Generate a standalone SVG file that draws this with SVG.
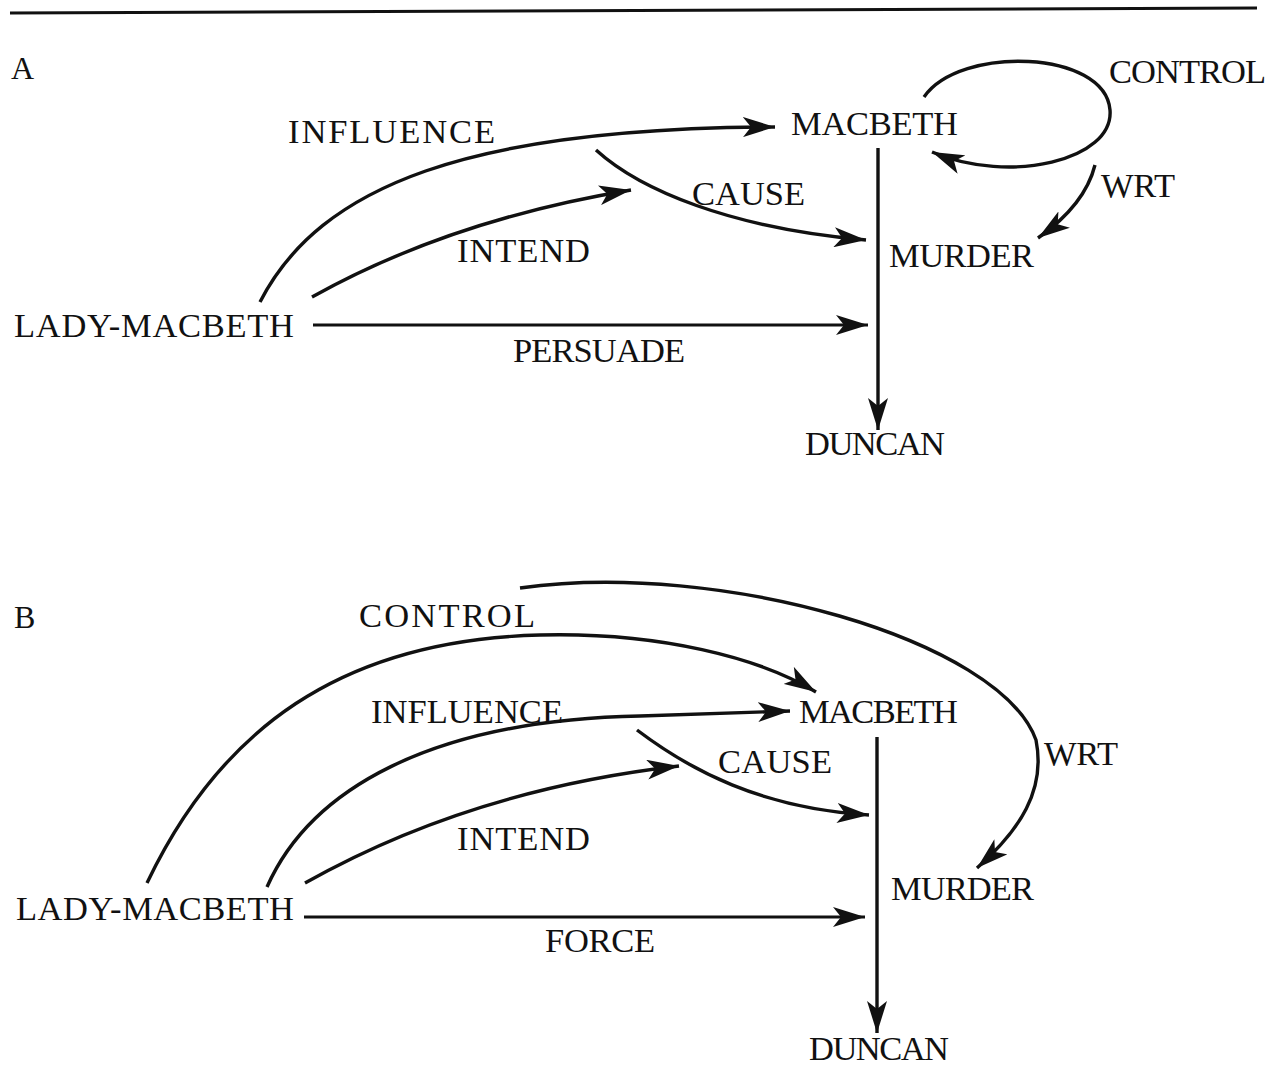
<svg xmlns="http://www.w3.org/2000/svg" width="1282" height="1065" viewBox="0 0 1282 1065">
<style>
text{font-family:"Liberation Serif","Times New Roman",serif;font-size:34.5px;fill:#111}
.pl{font-size:32px}
.c{fill:none;stroke:#111;stroke-width:3.4}
.h{stroke-width:2.8}
</style>
<defs>
<marker id="ah" markerUnits="userSpaceOnUse" viewBox="0 0 32 20" markerWidth="32" markerHeight="20" refX="32" refY="10" orient="auto">
<path d="M0,0 L32,10 L0,20 L8,10 z" fill="#111"/>
</marker>
</defs>
<rect width="1282" height="1065" fill="#fff"/>
<path d="M10,13 L1257,8" stroke="#111" stroke-width="3"/>

<g id="panelA">
<text class="pl" x="11" y="79">A</text>
<g id="connectorsA">
<path class="c" d="M878,148 L878,430" marker-end="url(#ah)"/>
<path class="c h" d="M313,325 L868,325" marker-end="url(#ah)"/>
<path class="c" d="M260,302 C320,185 470,128 775,127" marker-end="url(#ah)"/>
<path class="c" d="M312,297 Q450,220 631,190" marker-end="url(#ah)"/>
<path class="c" d="M596,150 C640,190 730,228 866,240" marker-end="url(#ah)"/>
<path class="c" d="M924,97 C960,45 1105,50 1110,110 C1114,160 1010,185 932,152" marker-end="url(#ah)"/>
<path class="c" d="M1095,165 Q1085,205 1038,238" marker-end="url(#ah)"/>
</g>
<g id="a-lady"><text x="14" y="337" textLength="280">LADY-MACBETH</text></g>
<g id="a-macbeth"><text x="791" y="135" textLength="167">MACBETH</text></g>
<g id="a-murder"><text x="889" y="267" textLength="145">MURDER</text></g>
<g id="a-duncan"><text x="805" y="455" textLength="140">DUNCAN</text></g>
<g id="a-labels">
<text x="288" y="143" textLength="207">INFLUENCE</text>
<text x="1109" y="83" textLength="157">CONTROL</text>
<text x="692" y="205" textLength="113">CAUSE</text>
<text x="1101" y="197" textLength="74">WRT</text>
<text x="457" y="262" textLength="133">INTEND</text>
<text x="513" y="362" textLength="172">PERSUADE</text>
</g>
</g>

<g id="panelB">
<text class="pl" x="14" y="628">B</text>
<g id="connectorsB">
<path class="c" d="M877,737 L877,1033" marker-end="url(#ah)"/>
<path class="c h" d="M304,917 L865,917" marker-end="url(#ah)"/>
<path class="c" d="M147,883 C220,730 340,640 540,635 C660,632 760,658 816,692" marker-end="url(#ah)"/>
<path class="c" d="M267,887 C310,790 430,720 640,716 L790,711" marker-end="url(#ah)"/>
<path class="c" d="M305,883 Q470,790 679,766" marker-end="url(#ah)"/>
<path class="c" d="M637,730 C690,770 760,808 869,815" marker-end="url(#ah)"/>
<path class="c" d="M520,588 C720,560 1000,640 1036,740 C1046,790 1020,830 977,868" marker-end="url(#ah)"/>
</g>
<g id="b-lady"><text x="16" y="920" textLength="278">LADY-MACBETH</text></g>
<g id="b-macbeth"><text x="799" y="723" textLength="159">MACBETH</text></g>
<g id="b-murder"><text x="891" y="900" textLength="143">MURDER</text></g>
<g id="b-duncan"><text x="809" y="1060" textLength="140">DUNCAN</text></g>
<g id="b-labels">
<text x="359" y="627" textLength="176">CONTROL</text>
<text x="371" y="723" textLength="192">INFLUENCE</text>
<text x="718" y="773" textLength="114">CAUSE</text>
<text x="1044" y="765" textLength="74">WRT</text>
<text x="457" y="850" textLength="133">INTEND</text>
<text x="545" y="952" textLength="110">FORCE</text>
</g>
</g>
</svg>
